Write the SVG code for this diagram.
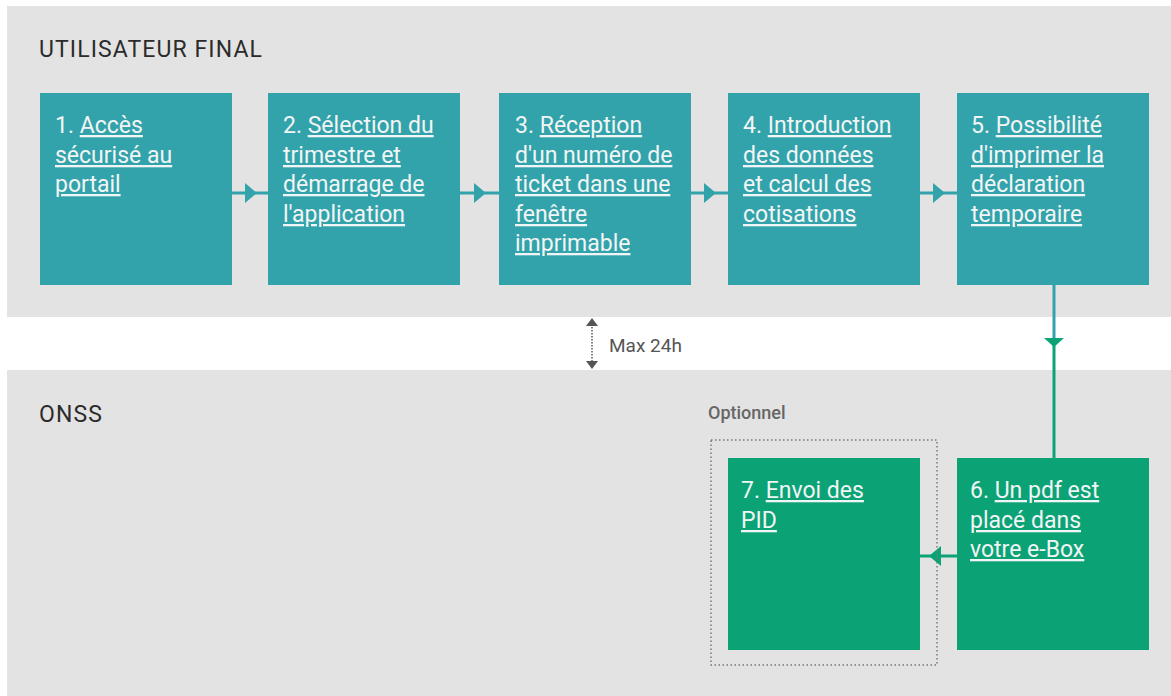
<svg xmlns="http://www.w3.org/2000/svg" width="1171" height="696" viewBox="0 0 1171 696">
  <defs>
    <style>
      .band { fill: #e3e3e3; }
      .lane { font-family: Roboto, "Liberation Sans", sans-serif; font-size: 23px; fill: #2b2b2b; letter-spacing: 1.1px; }
      .step { stroke: none; }
      .teal { fill: #33a3ab; }
      .green { fill: #0ba376; }
      .label { font-family: Roboto, "Liberation Sans", sans-serif; font-size: 23px; fill: #f2f5f5; }
      .u { text-decoration: underline; text-underline-offset: 4px; text-decoration-color: rgba(255,255,255,0.85); }
      .note { font-family: Roboto, "Liberation Sans", sans-serif; font-size: 19px; fill: #555555; }
      .opt { font-family: Roboto, "Liberation Sans", sans-serif; font-size: 18px; fill: #666666; font-weight: 500; }
      .line-teal { stroke: #33a3ab; stroke-width: 3; fill: none; }
      .line-green { stroke: #0ba376; stroke-width: 3; fill: none; }
    </style>
  </defs>

  <!-- swimlane backgrounds -->
  <rect class="band" x="7" y="6" width="1164" height="311"/>
  <rect class="band" x="7" y="370" width="1164" height="326"/>

  <g id="lane-titles">
    <text class="lane" x="39" y="57">UTILISATEUR FINAL</text>
    <text class="lane" x="39" y="422">ONSS</text>
  </g>

  <!-- connectors -->
  <g id="connectors">
    <line class="line-teal" x1="232" y1="193" x2="268" y2="193"/>
    <polygon class="teal" points="245,183 257,193 245,203"/>
    <line class="line-teal" x1="460" y1="193" x2="499" y2="193"/>
    <polygon class="teal" points="474,183 486,193 474,203"/>
    <line class="line-teal" x1="691" y1="193" x2="728" y2="193"/>
    <polygon class="teal" points="704,183 716,193 704,203"/>
    <line class="line-teal" x1="920" y1="193" x2="957" y2="193"/>
    <polygon class="teal" points="933,183 945,193 933,203"/>

    <line class="line-teal" x1="1054" y1="285" x2="1054" y2="339"/>
    <line class="line-green" x1="1054" y1="339" x2="1054" y2="458"/>
    <polygon class="green" points="1044,338 1064,338 1054,347"/>

    <line class="line-green" x1="957" y1="556" x2="919" y2="556"/>
    <polygon class="green" points="941,546 929,556 941,566"/>

    <!-- time gap indicator -->
    <line x1="592" y1="324" x2="592" y2="363" stroke="#555" stroke-width="1.5" stroke-dasharray="1.5 1.5"/>
    <polygon fill="#555" points="586,326 592,318 598,326"/>
    <polygon fill="#555" points="586,361 592,369 598,361"/>
    <text class="note" x="609" y="352">Max 24h</text>
  </g>

  <g id="step1">
    <rect class="step teal" x="40" y="93" width="192" height="192"/>
    <text class="label" x="55" y="133">1. <tspan class="u">Accès</tspan></text>
    <text class="label" x="55" y="163"><tspan class="u">sécurisé au</tspan></text>
    <text class="label" x="55" y="192"><tspan class="u">portail</tspan></text>
  </g>

  <g id="step2">
    <rect class="step teal" x="268" y="93" width="192" height="192"/>
    <text class="label" x="283" y="133">2. <tspan class="u">Sélection du</tspan></text>
    <text class="label" x="283" y="163"><tspan class="u">trimestre et</tspan></text>
    <text class="label" x="283" y="192"><tspan class="u">démarrage de</tspan></text>
    <text class="label" x="283" y="222"><tspan class="u">l'application</tspan></text>
  </g>

  <g id="step3">
    <rect class="step teal" x="499" y="93" width="192" height="192"/>
    <text class="label" x="515" y="133">3. <tspan class="u">Réception</tspan></text>
    <text class="label" x="515" y="163"><tspan class="u">d'un numéro de</tspan></text>
    <text class="label" x="515" y="192"><tspan class="u">ticket dans une</tspan></text>
    <text class="label" x="515" y="222"><tspan class="u">fenêtre</tspan></text>
    <text class="label" x="515" y="251"><tspan class="u">imprimable</tspan></text>
  </g>

  <g id="step4">
    <rect class="step teal" x="728" y="93" width="192" height="192"/>
    <text class="label" x="743" y="133">4. <tspan class="u">Introduction</tspan></text>
    <text class="label" x="743" y="163"><tspan class="u">des données</tspan></text>
    <text class="label" x="743" y="192"><tspan class="u">et calcul des</tspan></text>
    <text class="label" x="743" y="222"><tspan class="u">cotisations</tspan></text>
  </g>

  <g id="step5">
    <rect class="step teal" x="957" y="93" width="192" height="192"/>
    <text class="label" x="971" y="133">5. <tspan class="u">Possibilité</tspan></text>
    <text class="label" x="971" y="163"><tspan class="u">d'imprimer la</tspan></text>
    <text class="label" x="971" y="192"><tspan class="u">déclaration</tspan></text>
    <text class="label" x="971" y="222"><tspan class="u">temporaire</tspan></text>
  </g>

  <g id="optional-group">
    <rect x="711" y="440" width="226" height="225" fill="none" stroke="#777" stroke-width="1.5" stroke-dasharray="1.5 2.5"/>
    <text class="opt" x="708" y="419">Optionnel</text>
  </g>

  <g id="step6">
    <rect class="step green" x="957" y="458" width="192" height="192"/>
    <text class="label" x="970" y="498">6. <tspan class="u">Un pdf est</tspan></text>
    <text class="label" x="970" y="528"><tspan class="u">placé dans</tspan></text>
    <text class="label" x="970" y="557"><tspan class="u">votre e-Box</tspan></text>
  </g>

  <g id="step7">
    <rect class="step green" x="728" y="458" width="192" height="192"/>
    <text class="label" x="741" y="498">7. <tspan class="u">Envoi des</tspan></text>
    <text class="label" x="741" y="528"><tspan class="u">PID</tspan></text>
  </g>
</svg>
